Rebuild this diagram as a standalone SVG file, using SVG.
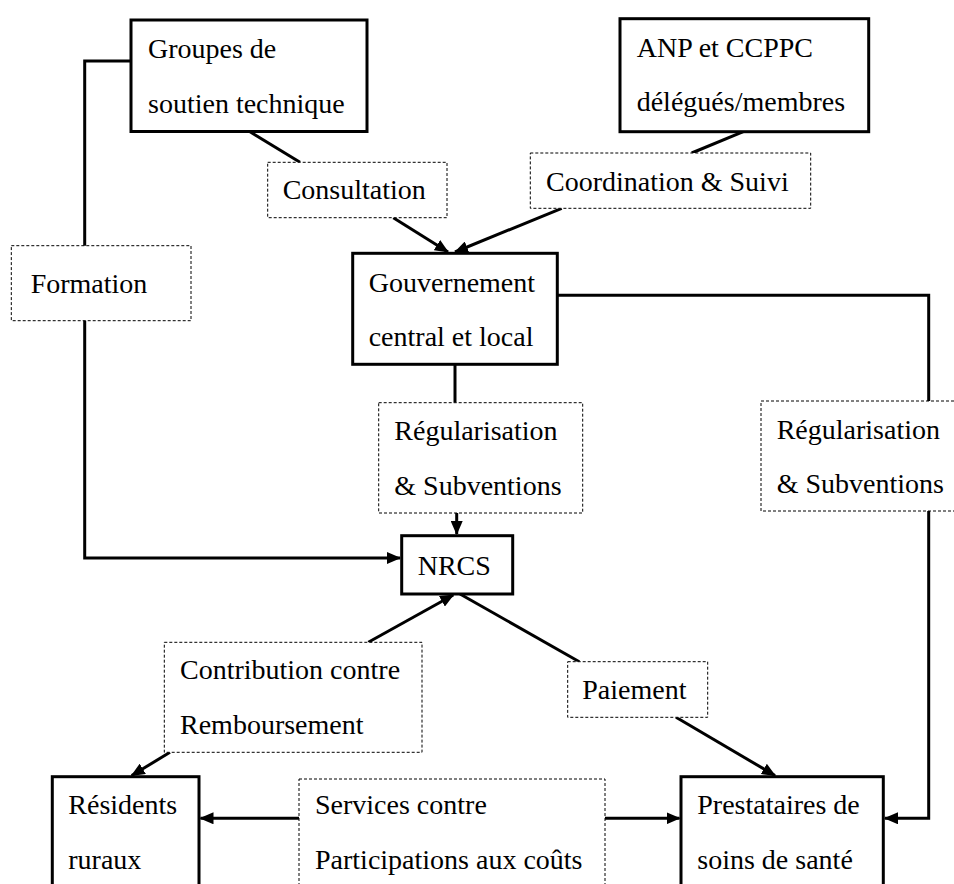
<svg xmlns="http://www.w3.org/2000/svg" width="954" height="884" viewBox="0 0 954 884">
<style>
.node{fill:#fff;stroke:#000;stroke-width:3}
.lbl{fill:#fff;stroke:#000;stroke-width:1;stroke-dasharray:3 2}
.c{fill:none;stroke:#000;stroke-width:3}
text{font-family:'Liberation Serif','Times New Roman',serif;font-size:28px;fill:#000}
</style>
<defs>
<marker id="ah" markerUnits="userSpaceOnUse" markerWidth="14" markerHeight="12" refX="13" refY="6" orient="auto">
<path d="M0,0 L14,6 L0,12 z" fill="#000"/>
</marker>
</defs>
<g id="connectors">
<polyline class="c" points="131,61 84.7,61 84.7,246"/>
<polyline class="c" points="84.7,320 84.7,558 400,558" marker-end="url(#ah)"/>
<line class="c" x1="250" y1="131.7" x2="300" y2="162.3"/>
<line class="c" x1="393.3" y1="217.7" x2="448" y2="252" marker-end="url(#ah)"/>
<line class="c" x1="743.3" y1="131.7" x2="691.7" y2="153"/>
<line class="c" x1="561.7" y1="208.3" x2="455" y2="252" marker-end="url(#ah)"/>
<polyline class="c" points="557.3,295.3 928.7,295.3 928.7,401"/>
<polyline class="c" points="928.7,511 928.7,818.3 885,818.3" marker-end="url(#ah)"/>
<line class="c" x1="455" y1="364.3" x2="455" y2="402.7"/>
<line class="c" x1="456.7" y1="513" x2="456.7" y2="534" marker-end="url(#ah)"/>
<line class="c" x1="368.3" y1="642.3" x2="453.3" y2="595" marker-end="url(#ah)"/>
<line class="c" x1="170" y1="752.3" x2="131.7" y2="775.5" marker-end="url(#ah)"/>
<line class="c" x1="460" y1="594" x2="579.3" y2="661.7"/>
<line class="c" x1="676" y1="717.3" x2="775" y2="775.5" marker-end="url(#ah)"/>
<line class="c" x1="299" y1="818.3" x2="200.5" y2="818.3" marker-end="url(#ah)"/>
<line class="c" x1="605" y1="818.3" x2="679.5" y2="818.3" marker-end="url(#ah)"/>
</g>
<g id="groupes">
<rect class="node" x="131" y="20" width="236" height="111.5"/>
<text x="148" y="58">Groupes de</text>
<text x="148" y="113">soutien technique</text>
</g>
<g id="anp">
<rect class="node" x="620" y="18.7" width="248.7" height="113"/>
<text x="636.7" y="56.7">ANP et CCPPC</text>
<text x="636.7" y="111">délégués/membres</text>
</g>
<g id="consultation">
<rect class="lbl" x="267.7" y="162.3" width="179.3" height="55.4"/>
<text x="282.7" y="199">Consultation</text>
</g>
<g id="coordination">
<rect class="lbl" x="530.3" y="153" width="280.4" height="55.3"/>
<text x="546" y="190.7">Coordination &amp; Suivi</text>
</g>
<g id="formation">
<rect class="lbl" x="11.3" y="245.7" width="179.7" height="75"/>
<text x="30.7" y="292.7">Formation</text>
</g>
<g id="gouvernement">
<rect class="node" x="352.7" y="253.3" width="204.6" height="111"/>
<text x="368.7" y="292">Gouvernement</text>
<text x="368.7" y="345.7">central et local</text>
</g>
<g id="regul-center">
<rect class="lbl" x="378.7" y="402.7" width="204" height="110.3"/>
<text x="394.3" y="440">Régularisation</text>
<text x="394.3" y="495">&amp; Subventions</text>
</g>
<g id="regul-right">
<rect class="lbl" x="761" y="401" width="200" height="110"/>
<text x="776.7" y="439">Régularisation</text>
<text x="776.7" y="493.3">&amp; Subventions</text>
</g>
<g id="nrcs">
<rect class="node" x="401.7" y="535.7" width="111" height="58.3"/>
<text x="417.7" y="575">NRCS</text>
</g>
<g id="contribution">
<rect class="lbl" x="164.3" y="642.3" width="257.7" height="110"/>
<text x="180" y="679.3">Contribution contre</text>
<text x="180" y="734.3">Remboursement</text>
</g>
<g id="paiement">
<rect class="lbl" x="567.7" y="661.7" width="140" height="55.6"/>
<text x="582.3" y="699">Paiement</text>
</g>
<g id="residents">
<rect class="node" x="52.3" y="776.7" width="146.7" height="120"/>
<text x="68.3" y="814.3">Résidents</text>
<text x="68.3" y="869.3">ruraux</text>
</g>
<g id="services">
<rect class="lbl" x="299" y="779" width="306" height="120"/>
<text x="315" y="814.3">Services contre</text>
<text x="315" y="869.3">Participations aux coûts</text>
</g>
<g id="prestataires">
<rect class="node" x="681" y="776.7" width="202.3" height="120"/>
<text x="697.3" y="814.3">Prestataires de</text>
<text x="697.3" y="869.3">soins de santé</text>
</g>
</svg>
